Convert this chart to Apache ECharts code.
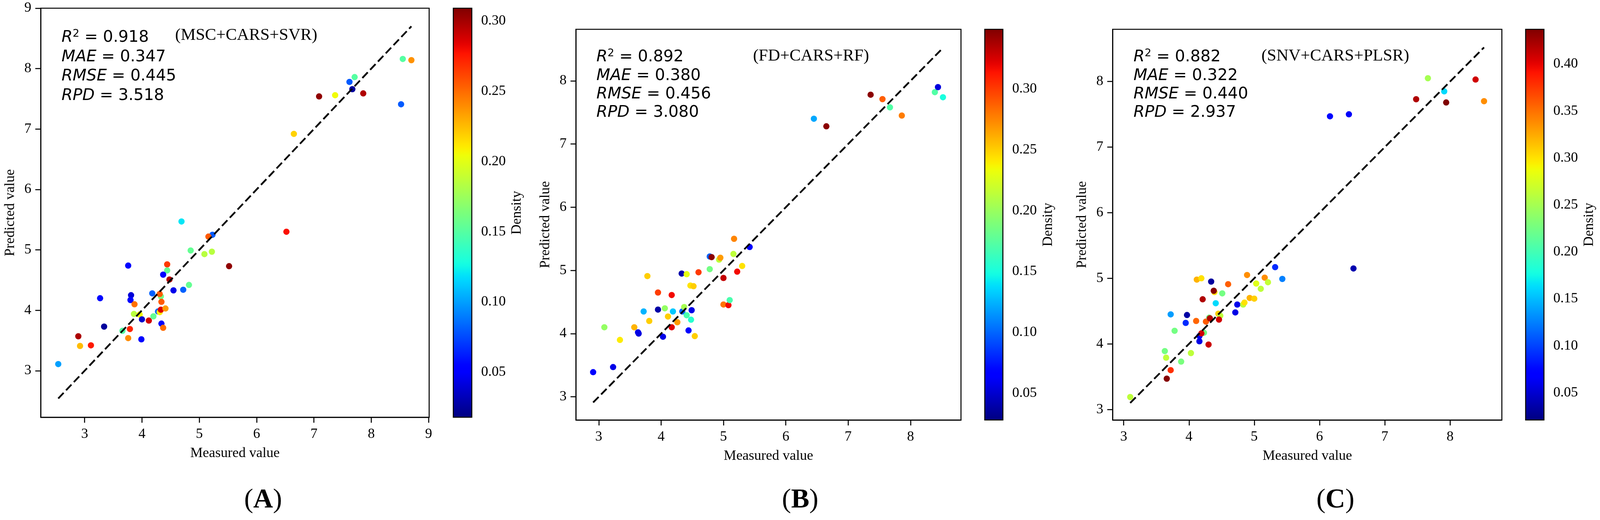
<!DOCTYPE html>
<html>
<head>
<meta charset="utf-8">
<style>
  html, body { margin: 0; padding: 0; background: #fff; overflow: hidden; }
  #chart { width: 100vw; height: 100vh; }
</style>
<script src="https://cdn.jsdelivr.net/npm/echarts@6/dist/echarts.min.js"></script>
</head>
<body>
<div id="chart"></div>
<script>
// ---- panel A : MSC+CARS+SVR ----
const measuredA = [2.54, 2.89, 2.92, 3.11, 3.27, 3.34, 3.66, 3.76, 3.79, 3.76, 3.81, 3.80, 3.87, 3.86, 3.96, 4.00, 3.99, 4.12,
  4.20, 4.18, 4.33, 4.31, 4.34, 4.28, 4.31, 4.33, 4.41, 4.34, 4.37, 4.44, 4.44, 4.37, 4.48, 4.55, 4.72, 4.82, 4.85, 5.09,
  5.22, 5.23, 5.16, 4.69, 5.52, 6.52, 6.65, 7.09, 7.37, 7.62, 7.71, 7.67, 7.86, 8.55, 8.70, 8.52];
const predictedA = [3.11, 3.57, 3.41, 3.42, 4.20, 3.73, 3.66, 3.54, 3.69, 4.74, 4.25, 4.17, 4.10, 3.94, 3.93, 3.85, 3.52, 3.83,
  3.90, 4.28, 4.23, 4.27, 4.14, 3.98, 3.97, 4.01, 4.03, 3.78, 3.71, 4.76, 4.66, 4.59, 4.51, 4.33, 4.34, 4.42, 4.99, 4.93,
  4.97, 5.25, 5.22, 5.47, 4.73, 5.30, 6.92, 7.54, 7.56, 7.78, 7.86, 7.66, 7.59, 8.16, 8.14, 7.41];
const densityA = [0.100, 0.298, 0.225, 0.275, 0.056, 0.025, 0.150, 0.240, 0.272, 0.055, 0.040, 0.055, 0.248, 0.185, 0.205, 0.038, 0.055, 0.288,
  0.155, 0.082, 0.160, 0.255, 0.255, 0.085, 0.210, 0.285, 0.235, 0.055, 0.250, 0.265, 0.155, 0.055, 0.297, 0.045, 0.082, 0.155, 0.155, 0.185,
  0.185, 0.080, 0.255, 0.120, 0.305, 0.278, 0.218, 0.305, 0.205, 0.080, 0.150, 0.025, 0.297, 0.150, 0.238, 0.080];
const statsA = [0.918, 0.347, 0.445, 3.518];

// ---- panel B : FD+CARS+RF ----
const measuredB = [2.91, 3.23, 3.09, 3.34, 3.57, 3.64, 3.63, 3.72, 3.78, 3.81, 3.95, 3.95, 4.03, 4.06, 4.11, 4.17, 4.17, 4.19,
  4.26, 4.33, 4.41, 4.34, 4.37, 4.41, 4.48, 4.49, 4.44, 4.54, 4.47, 4.52, 4.60, 4.78, 4.78, 4.81, 4.93, 4.95, 5.00, 5.16,
  5.17, 5.30, 5.22, 5.42, 5.00, 5.08, 5.10, 6.45, 6.65, 7.36, 7.55, 7.67, 7.86, 8.39, 8.44, 8.52];
const predictedB = [3.39, 3.47, 4.10, 3.90, 4.10, 4.00, 4.02, 4.35, 4.91, 4.20, 4.65, 4.38, 3.95, 4.40, 4.27, 4.61, 4.10, 4.35,
  4.18, 4.95, 4.94, 4.35, 4.42, 4.29, 4.22, 4.37, 4.05, 3.96, 4.76, 4.75, 4.97, 5.02, 5.22, 5.21, 5.17, 5.20, 4.88, 5.26,
  5.50, 5.07, 4.98, 5.37, 4.46, 4.45, 4.53, 7.40, 7.28, 7.78, 7.71, 7.58, 7.45, 7.82, 7.90, 7.74];
const densityB = [0.068, 0.057, 0.198, 0.240, 0.259, 0.054, 0.056, 0.125, 0.250, 0.250, 0.300, 0.039, 0.057, 0.198, 0.250, 0.317, 0.322, 0.131,
  0.267, 0.040, 0.230, 0.099, 0.205, 0.169, 0.156, 0.057, 0.068, 0.250, 0.243, 0.250, 0.301, 0.185, 0.099, 0.346, 0.214, 0.267, 0.330, 0.214,
  0.275, 0.243, 0.317, 0.068, 0.280, 0.317, 0.169, 0.121, 0.346, 0.346, 0.288, 0.172, 0.278, 0.172, 0.054, 0.150];
const statsB = [0.892, 0.380, 0.456, 3.080];

// ---- panel C : SNV+CARS+PLSR ----
const measuredC = [3.10, 3.66, 3.72, 3.63, 3.65, 3.78, 3.88, 3.72, 3.95, 3.97, 4.03, 4.11, 4.12, 4.19, 4.16, 4.16, 4.23, 4.19,
  4.21, 4.30, 4.26, 4.31, 4.32, 4.34, 4.39, 4.38, 4.41, 4.51, 4.45, 4.48, 4.46, 4.60, 4.71, 4.74, 4.83, 4.85, 4.89, 4.93,
  5.00, 5.03, 5.10, 5.16, 5.21, 5.32, 5.43, 6.52, 6.16, 6.45, 7.66, 7.48, 7.91, 7.94, 8.39, 8.52];
const predictedC = [3.19, 3.47, 3.60, 3.89, 3.79, 4.20, 3.73, 4.45, 4.32, 4.44, 3.86, 4.35, 4.98, 5.00, 4.04, 4.12, 4.17, 4.16,
  4.68, 3.99, 4.34, 4.40, 4.39, 4.95, 4.79, 4.81, 4.62, 4.77, 4.46, 4.43, 4.37, 4.91, 4.48, 4.60, 4.60, 4.63, 5.05, 4.70,
  4.69, 4.92, 4.84, 5.01, 4.94, 5.17, 4.99, 5.15, 7.47, 7.50, 8.05, 7.73, 7.85, 7.68, 8.03, 7.70];
const densityC = [0.262, 0.435, 0.379, 0.225, 0.262, 0.225, 0.228, 0.137, 0.090, 0.034, 0.262, 0.355, 0.321, 0.300, 0.058, 0.062, 0.225, 0.408,
  0.420, 0.410, 0.360, 0.225, 0.418, 0.032, 0.300, 0.435, 0.162, 0.225, 0.308, 0.262, 0.408, 0.358, 0.058, 0.060, 0.262, 0.300, 0.337, 0.321,
  0.308, 0.279, 0.262, 0.337, 0.265, 0.090, 0.125, 0.038, 0.075, 0.065, 0.250, 0.420, 0.162, 0.437, 0.408, 0.337];
const statsC = [0.882, 0.322, 0.440, 2.937];

// tick labels
const ticksA = [3, 4, 5, 6, 7, 8, 9];
const ticksBC = [3, 4, 5, 6, 7, 8];
const densityTicksAB = [0.05, 0.10, 0.15, 0.20, 0.25, 0.30];
const densityTicksC = [0.05, 0.10, 0.15, 0.20, 0.25, 0.30, 0.35, 0.40];
const statNames = ['R', 'MAE', 'RMSE', 'RPD'];

// jet colormap (matplotlib segment data), sampled for the visualMap
const jetSeg = {
  r: [[0, 0], [0.35, 0], [0.66, 1], [0.89, 1], [1, 0.5]],
  g: [[0, 0], [0.125, 0], [0.375, 1], [0.64, 1], [0.91, 0], [1, 0]],
  b: [[0, 0.5], [0.11, 1], [0.34, 1], [0.65, 0], [1, 0]]
};
function segVal(seg, t) {
  for (let i = 1; i < seg.length; i++) {
    if (t <= seg[i][0]) {
      const t0 = seg[i - 1][0], v0 = seg[i - 1][1], t1 = seg[i][0], v1 = seg[i][1];
      return v0 + (v1 - v0) * (t - t0) / (t1 - t0);
    }
  }
  return seg[seg.length - 1][1];
}
const jet = [];
for (let i = 0; i <= 64; i++) {
  const t = i / 64;
  const c = ['r', 'g', 'b'].map(k => Math.round(255 * segVal(jetSeg[k], t)));
  jet.push('rgb(' + c.join(',') + ')');
}

const SERIF = "'Liberation Serif', 'Times New Roman', serif";
const SANS = "'DejaVu Sans', sans-serif";

// layout is written for a 4239 x 1331 page and scaled to the real size
const panels = [
  { x: measuredA, y: predictedA, d: densityA, stats: statsA, method: '(MSC+CARS+SVR)', tag: 'A',
    left: 108, top: 21, width: 1029, height: 1047, xMin: 2.235, xMax: 9.01, yMin: 2.23, yMax: 9.0,
    ticks: ticksA, cbLeft: 1201, cbWidth: 49, dMin: 0.018, dMax: 0.309, cbTicks: densityTicksAB,
    statX: 163, statY: [96.6, 146.6, 195.7, 245.3], methodX: 464, methodY: 91, tagX: 697 },
  { x: measuredB, y: predictedB, d: densityB, stats: statsB, method: '(FD+CARS+RF)', tag: 'B',
    left: 1526, top: 75, width: 1020, height: 1000, xMin: 2.635, xMax: 8.809, yMin: 2.633, yMax: 8.815,
    ticks: ticksBC, cbLeft: 2609, cbWidth: 48, dMin: 0.028, dMax: 0.349, cbTicks: densityTicksAB,
    statX: 1580, statY: [146.6, 194.8, 241.7, 288.6], methodX: 1995, methodY: 144, tagX: 2120 },
  { x: measuredC, y: predictedC, d: densityC, stats: statsC, method: '(SNV+CARS+PLSR)', tag: 'C',
    left: 2948, top: 75, width: 1031, height: 1000, xMin: 2.832, xMax: 8.793, yMin: 2.84, yMax: 8.796,
    ticks: ticksBC, cbLeft: 4042, cbWidth: 48.5, dMin: 0.021, dMax: 0.437, cbTicks: densityTicksC,
    statX: 3003, statY: [146.6, 194.8, 241.7, 288.6], methodX: 3342, methodY: 144, tagX: 3538 }
];

const chart = echarts.init(document.getElementById('chart'), null, { renderer: 'canvas' });
const sx = chart.getWidth() / 4239;
const sy = chart.getHeight() / 1331;

const grid = [], xAxis = [], yAxis = [], series = [], visualMap = [], graphic = [];
const black = '#000';
const lw = 2.6;

panels.forEach(function (p, k) {
  // main plot
  grid.push({ left: p.left * sx, top: p.top * sy, width: p.width * sx, height: p.height * sy, show: true,
    borderColor: black, borderWidth: lw, backgroundColor: 'transparent', outerBoundsMode: 'none' });
  // colorbar frame
  grid.push({ left: p.cbLeft * sx, top: p.top * sy, width: p.cbWidth * sx, height: p.height * sy, show: true,
    borderColor: black, borderWidth: lw, backgroundColor: 'transparent', outerBoundsMode: 'none', z: 5 });

  const gi = k * 2;
  xAxis.push({
    type: 'value', gridIndex: gi, min: p.xMin, max: p.xMax,
    axisLine: { show: true, onZero: false, lineStyle: { color: black, width: lw } },
    axisTick: { show: true, customValues: p.ticks, length: 14, lineStyle: { color: black, width: lw } },
    axisLabel: { customValues: p.ticks, color: black, fontFamily: SERIF, fontSize: 36, margin: 26 },
    splitLine: { show: false },
    name: 'Measured value', nameLocation: 'middle', nameGap: 75,
    nameTextStyle: { color: black, fontFamily: SERIF, fontSize: 36 }
  });
  yAxis.push({
    type: 'value', gridIndex: gi, min: p.yMin, max: p.yMax,
    axisLine: { show: true, onZero: false, lineStyle: { color: black, width: lw } },
    axisTick: { show: true, customValues: p.ticks, length: 14, lineStyle: { color: black, width: lw } },
    axisLabel: { customValues: p.ticks, color: black, fontFamily: SERIF, fontSize: 36, margin: 24 },
    splitLine: { show: false },
    name: 'Predicted value', nameLocation: 'middle', nameGap: 60,
    nameTextStyle: { color: black, fontFamily: SERIF, fontSize: 36 }
  });
  xAxis.push({ type: 'value', gridIndex: gi + 1, min: 0, max: 1, show: false });
  yAxis.push({
    type: 'value', gridIndex: gi + 1, min: p.dMin, max: p.dMax, position: 'right',
    axisLine: { show: false },
    axisTick: { show: true, customValues: p.cbTicks, length: 11, lineStyle: { color: black, width: lw } },
    axisLabel: { customValues: p.cbTicks, color: black, fontFamily: SERIF, fontSize: 36, margin: 24,
      formatter: function (v) { return v.toFixed(2); } },
    splitLine: { show: false },
    name: 'Density', nameLocation: 'middle', nameGap: 98,
    nameTextStyle: { color: black, fontFamily: SERIF, fontSize: 36 }
  });

  const pts = p.x.map(function (v, i) { return [v, p.y[i], p.d[i]]; });
  series.push({
    type: 'scatter', xAxisIndex: gi, yAxisIndex: gi, data: pts, symbolSize: 16,
    itemStyle: { opacity: 1 }, emphasis: { disabled: true }, z: 2
  });
  // 1:1 reference line over the measured range
  const lo = Math.min.apply(null, p.x), hi = Math.max.apply(null, p.x);
  series.push({
    type: 'line', xAxisIndex: gi, yAxisIndex: gi, data: [[lo, lo], [hi, hi]], symbol: 'none',
    lineStyle: { color: black, width: 4.5, type: [20, 9] }, z: 3, silent: true
  });

  visualMap.push({
    type: 'continuous', seriesIndex: k * 2, dimension: 2, min: p.dMin, max: p.dMax,
    inRange: { color: jet }, calculable: false, text: null, padding: 0,
    left: p.cbLeft * sx, top: p.top * sy, itemWidth: p.cbWidth * sx, itemHeight: p.height * sy,
    hoverLink: false, z: 4
  });

  // statistics block
  p.stats.forEach(function (v, i) {
    const nm = i === 0 ? '{i|R}{s|2}' : '{i|' + statNames[i] + '}';
    graphic.push({
      type: 'text', x: p.statX * sx, y: p.statY[i] * sy, z: 10,
      style: {
        text: nm + '{n| = ' + v.toFixed(3) + '}',
        align: 'left', verticalAlign: 'middle',
        rich: {
          i: { fontFamily: SANS, fontStyle: 'italic', fontSize: 41, lineHeight: 46, fill: black },
          n: { fontFamily: SANS, fontSize: 41, lineHeight: 46, fill: black },
          s: { fontFamily: SANS, fontSize: 27, lineHeight: 27, verticalAlign: 'top', fill: black }
        }
      }
    });
  });
  graphic.push({
    type: 'text', x: p.methodX * sx, y: p.methodY * sy, z: 10,
    style: { text: p.method, fontFamily: SERIF, fontSize: 43, fill: black, align: 'left', verticalAlign: 'middle' }
  });
  graphic.push({
    type: 'text', x: p.tagX * sx, y: 1281 * sy, z: 10,
    style: {
      text: '{p|(}{b|' + p.tag + '}{p|)}', align: 'center', verticalAlign: 'middle',
      rich: {
        p: { fontFamily: SERIF, fontSize: 70, fill: black },
        b: { fontFamily: SERIF, fontSize: 70, fontWeight: 'bold', fill: black }
      }
    }
  });
});

chart.setOption({
  backgroundColor: '#fff',
  animation: false,
  grid: grid,
  xAxis: xAxis,
  yAxis: yAxis,
  visualMap: visualMap,
  series: series,
  graphic: graphic
});
</script>
</body>
</html>
